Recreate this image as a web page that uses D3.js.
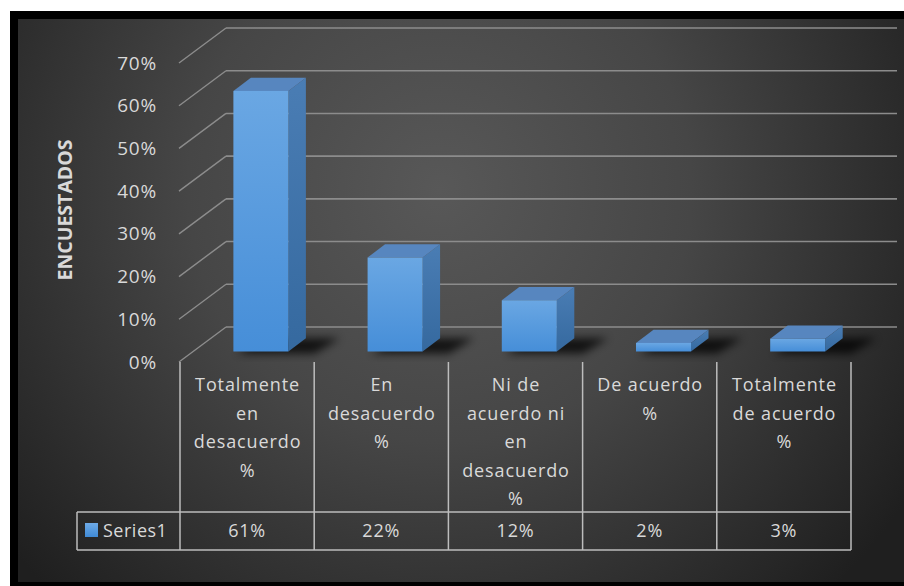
<!DOCTYPE html>
<html>
<head>
<meta charset="utf-8">
<script src="https://cdn.jsdelivr.net/npm/d3@7"></script>
<style>
  html, body { margin: 0; padding: 0; background: #ffffff; overflow: hidden; }
  svg { display: block; }
  text { font-family: "Open Sans", "Noto Sans", sans-serif; }
</style>
</head>
<body>
<svg id="chart" width="904" height="586"></svg>
<script>
// Survey answers (share of respondents)
const categories = [
  "Totalmente en desacuerdo %",
  "En desacuerdo %",
  "Ni de acuerdo ni en desacuerdo %",
  "De acuerdo %",
  "Totalmente de acuerdo %"
];
const categoryLines = [
  ["Totalmente", "en", "desacuerdo", "%"],
  ["En", "desacuerdo", "%"],
  ["Ni de", "acuerdo ni", "en", "desacuerdo", "%"],
  ["De acuerdo", "%"],
  ["Totalmente", "de acuerdo", "%"]
];
const values = [0.61, 0.22, 0.12, 0.02, 0.03];
const yTicks = [0, 0.1, 0.2, 0.3, 0.4, 0.5, 0.6, 0.7];
const seriesName = "Series1";
const axisTitle = "ENCUESTADOS";

const pct = d3.format(".0%");
const svg = d3.select("#chart");
const defs = svg.append("defs");

// background: dark radial wash
const bg = defs.append("radialGradient").attr("id", "bgGrad")
  .attr("gradientUnits", "userSpaceOnUse")
  .attr("cx", 440).attr("cy", 190).attr("r", 560);
bg.append("stop").attr("offset", "0").attr("stop-color", "#585858");
bg.append("stop").attr("offset", "0.45").attr("stop-color", "#464646");
bg.append("stop").attr("offset", "1").attr("stop-color", "#1f1f1f");

const frontGrad = defs.append("linearGradient").attr("id", "frontGrad")
  .attr("x1", 0).attr("y1", 0).attr("x2", 0).attr("y2", 1);
frontGrad.append("stop").attr("offset", "0").attr("stop-color", "#6aa7e3");
frontGrad.append("stop").attr("offset", "1").attr("stop-color", "#468ed8");

const sideGrad = defs.append("linearGradient").attr("id", "sideGrad")
  .attr("x1", 0).attr("y1", 0).attr("x2", 0).attr("y2", 1);
sideGrad.append("stop").attr("offset", "0").attr("stop-color", "#4a7db4");
sideGrad.append("stop").attr("offset", "1").attr("stop-color", "#35699f");

const keyGrad = defs.append("linearGradient").attr("id", "keyGrad")
  .attr("x1", 0).attr("y1", 0).attr("x2", 0).attr("y2", 1);
keyGrad.append("stop").attr("offset", "0").attr("stop-color", "#6eaae6");
keyGrad.append("stop").attr("offset", "1").attr("stop-color", "#3f8ad6");

defs.append("filter").attr("id", "shadowBlur")
  .attr("x", "-50%").attr("y", "-50%").attr("width", "200%").attr("height", "200%")
  .append("feGaussianBlur").attr("stdDeviation", 4);

// frame
svg.append("rect").attr("x", 10).attr("y", 11).attr("width", 894).attr("height", 575).attr("fill", "#000");
svg.append("rect").attr("x", 18).attr("y", 19).attr("width", 886).attr("height", 563).attr("fill", "url(#bgGrad)");

// plot geometry: front floor edge and depth offset of the back wall
const plotLeft = 180, plotRight = 851;
const depthX = 46, depthY = -35;

const x = d3.scaleBand().domain(categories).range([plotLeft, plotRight]).paddingInner(0).paddingOuter(0);
const y = d3.scaleLinear().domain([0, 0.7]).range([362, 63]);

const gridColor = "#8c8c8c";
const textColor = "#d9d9d9";

// back wall gridlines
svg.append("g").selectAll("line").data(yTicks).join("line")
  .attr("x1", plotLeft + depthX).attr("x2", plotRight + depthX)
  .attr("y1", d => y(d) + depthY).attr("y2", d => y(d) + depthY)
  .attr("stroke", gridColor).attr("stroke-width", 1.6);

// side wall gridlines
svg.append("g").selectAll("line").data(yTicks).join("line")
  .attr("x1", plotLeft - 1).attr("x2", plotLeft + depthX)
  .attr("y1", d => y(d)).attr("y2", d => y(d) + depthY)
  .attr("stroke", gridColor).attr("stroke-width", 1.4);

// y axis labels
const yAxis = d3.axisLeft(y).tickValues(yTicks).tickFormat(pct).tickSize(0).tickPadding(22);
const gy = svg.append("g").attr("transform", `translate(${plotLeft - 1},0)`).call(yAxis);
gy.select(".domain").remove();
gy.selectAll("text")
  .attr("fill", textColor)
  .style("font-family", "'Open Sans', sans-serif")
  .style("font-size", "19px")
  .style("letter-spacing", "0.8px");

// axis title
svg.append("text")
  .attr("transform", "translate(72,210) rotate(-90)")
  .attr("text-anchor", "middle")
  .attr("fill", textColor)
  .style("font-size", "19.5px")
  .style("font-weight", "700")
  .text(axisTitle);

// 3D columns
const barFrac = 0.41;
const z0 = 0.3, z1 = 0.68;
const bars = svg.append("g");
categories.forEach((c, i) => {
  const v = values[i];
  const cx = x(c) + x.bandwidth() / 2;
  const w = x.bandwidth() * barFrac;
  const fx0 = cx - w / 2 + z0 * depthX;
  const fx1 = cx + w / 2 + z0 * depthX;
  const fyb = y(0) + z0 * depthY;
  const fyt = y(v) + z0 * depthY;
  const ddx = (z1 - z0) * depthX, ddy = (z1 - z0) * depthY;

  // floor shadow
  bars.append("path")
    .attr("d", d3.line()([[fx0 + 4, fyb + 2], [fx1 + 26, fyb + 2], [fx1 + ddx + 34, fyb + ddy], [fx0 + ddx + 10, fyb + ddy]]) + "Z")
    .attr("fill", "#000").attr("opacity", 0.75)
    .attr("filter", "url(#shadowBlur)");

  // right side face
  bars.append("path")
    .attr("d", d3.line()([[fx1, fyt], [fx1 + ddx, fyt + ddy], [fx1 + ddx, fyb + ddy], [fx1, fyb]]) + "Z")
    .attr("fill", "url(#sideGrad)");
  // top face
  bars.append("path")
    .attr("d", d3.line()([[fx0, fyt], [fx1, fyt], [fx1 + ddx, fyt + ddy], [fx0 + ddx, fyt + ddy]]) + "Z")
    .attr("fill", "#5786bf");
  // front face
  bars.append("rect")
    .attr("x", fx0).attr("y", fyt)
    .attr("width", fx1 - fx0).attr("height", fyb - fyt)
    .attr("fill", "url(#frontGrad)");
});

// data table
const tableTop = 362, rowTop = 512, rowBottom = 550, keyLeft = 77;
const tableColor = "#bdbdbd";
const table = svg.append("g");
const colEdges = categories.map(c => x(c)).concat([plotRight]);
table.selectAll("line.v").data(colEdges).join("line")
  .attr("class", "v")
  .attr("x1", d => d).attr("x2", d => d)
  .attr("y1", tableTop).attr("y2", rowBottom)
  .attr("stroke", tableColor).attr("stroke-width", 1.5);
table.append("line").attr("x1", keyLeft).attr("x2", keyLeft).attr("y1", rowTop).attr("y2", rowBottom)
  .attr("stroke", tableColor).attr("stroke-width", 1.5);
[rowTop, rowBottom].forEach(yy => {
  table.append("line").attr("x1", keyLeft).attr("x2", plotRight).attr("y1", yy).attr("y2", yy)
    .attr("stroke", tableColor).attr("stroke-width", 1.5);
});

// category labels
categories.forEach((c, i) => {
  const cx = x(c) + x.bandwidth() / 2;
  const t = table.append("text")
    .attr("text-anchor", "middle")
    .attr("fill", textColor)
    .style("font-size", "18px")
    .style("letter-spacing", "0.9px");
  categoryLines[i].forEach((ln, k) => {
    t.append("tspan").attr("x", cx + 0.5).attr("y", 391 + k * 28.6).text(ln);
  });
});

// values row
categories.forEach((c, i) => {
  table.append("text")
    .attr("x", x(c) + x.bandwidth() / 2)
    .attr("y", 537)
    .attr("text-anchor", "middle")
    .attr("fill", textColor)
    .style("font-size", "18px")
    .style("letter-spacing", "0.8px")
    .text(pct(values[i]));
});

// legend key
table.append("rect").attr("x", 85).attr("y", 523).attr("width", 13).attr("height", 14).attr("fill", "url(#keyGrad)");
table.append("text").attr("x", 103).attr("y", 537)
  .attr("fill", textColor)
  .style("font-size", "18px")
  .style("letter-spacing", "0.5px")
  .text(seriesName);
</script>
</body>
</html>
